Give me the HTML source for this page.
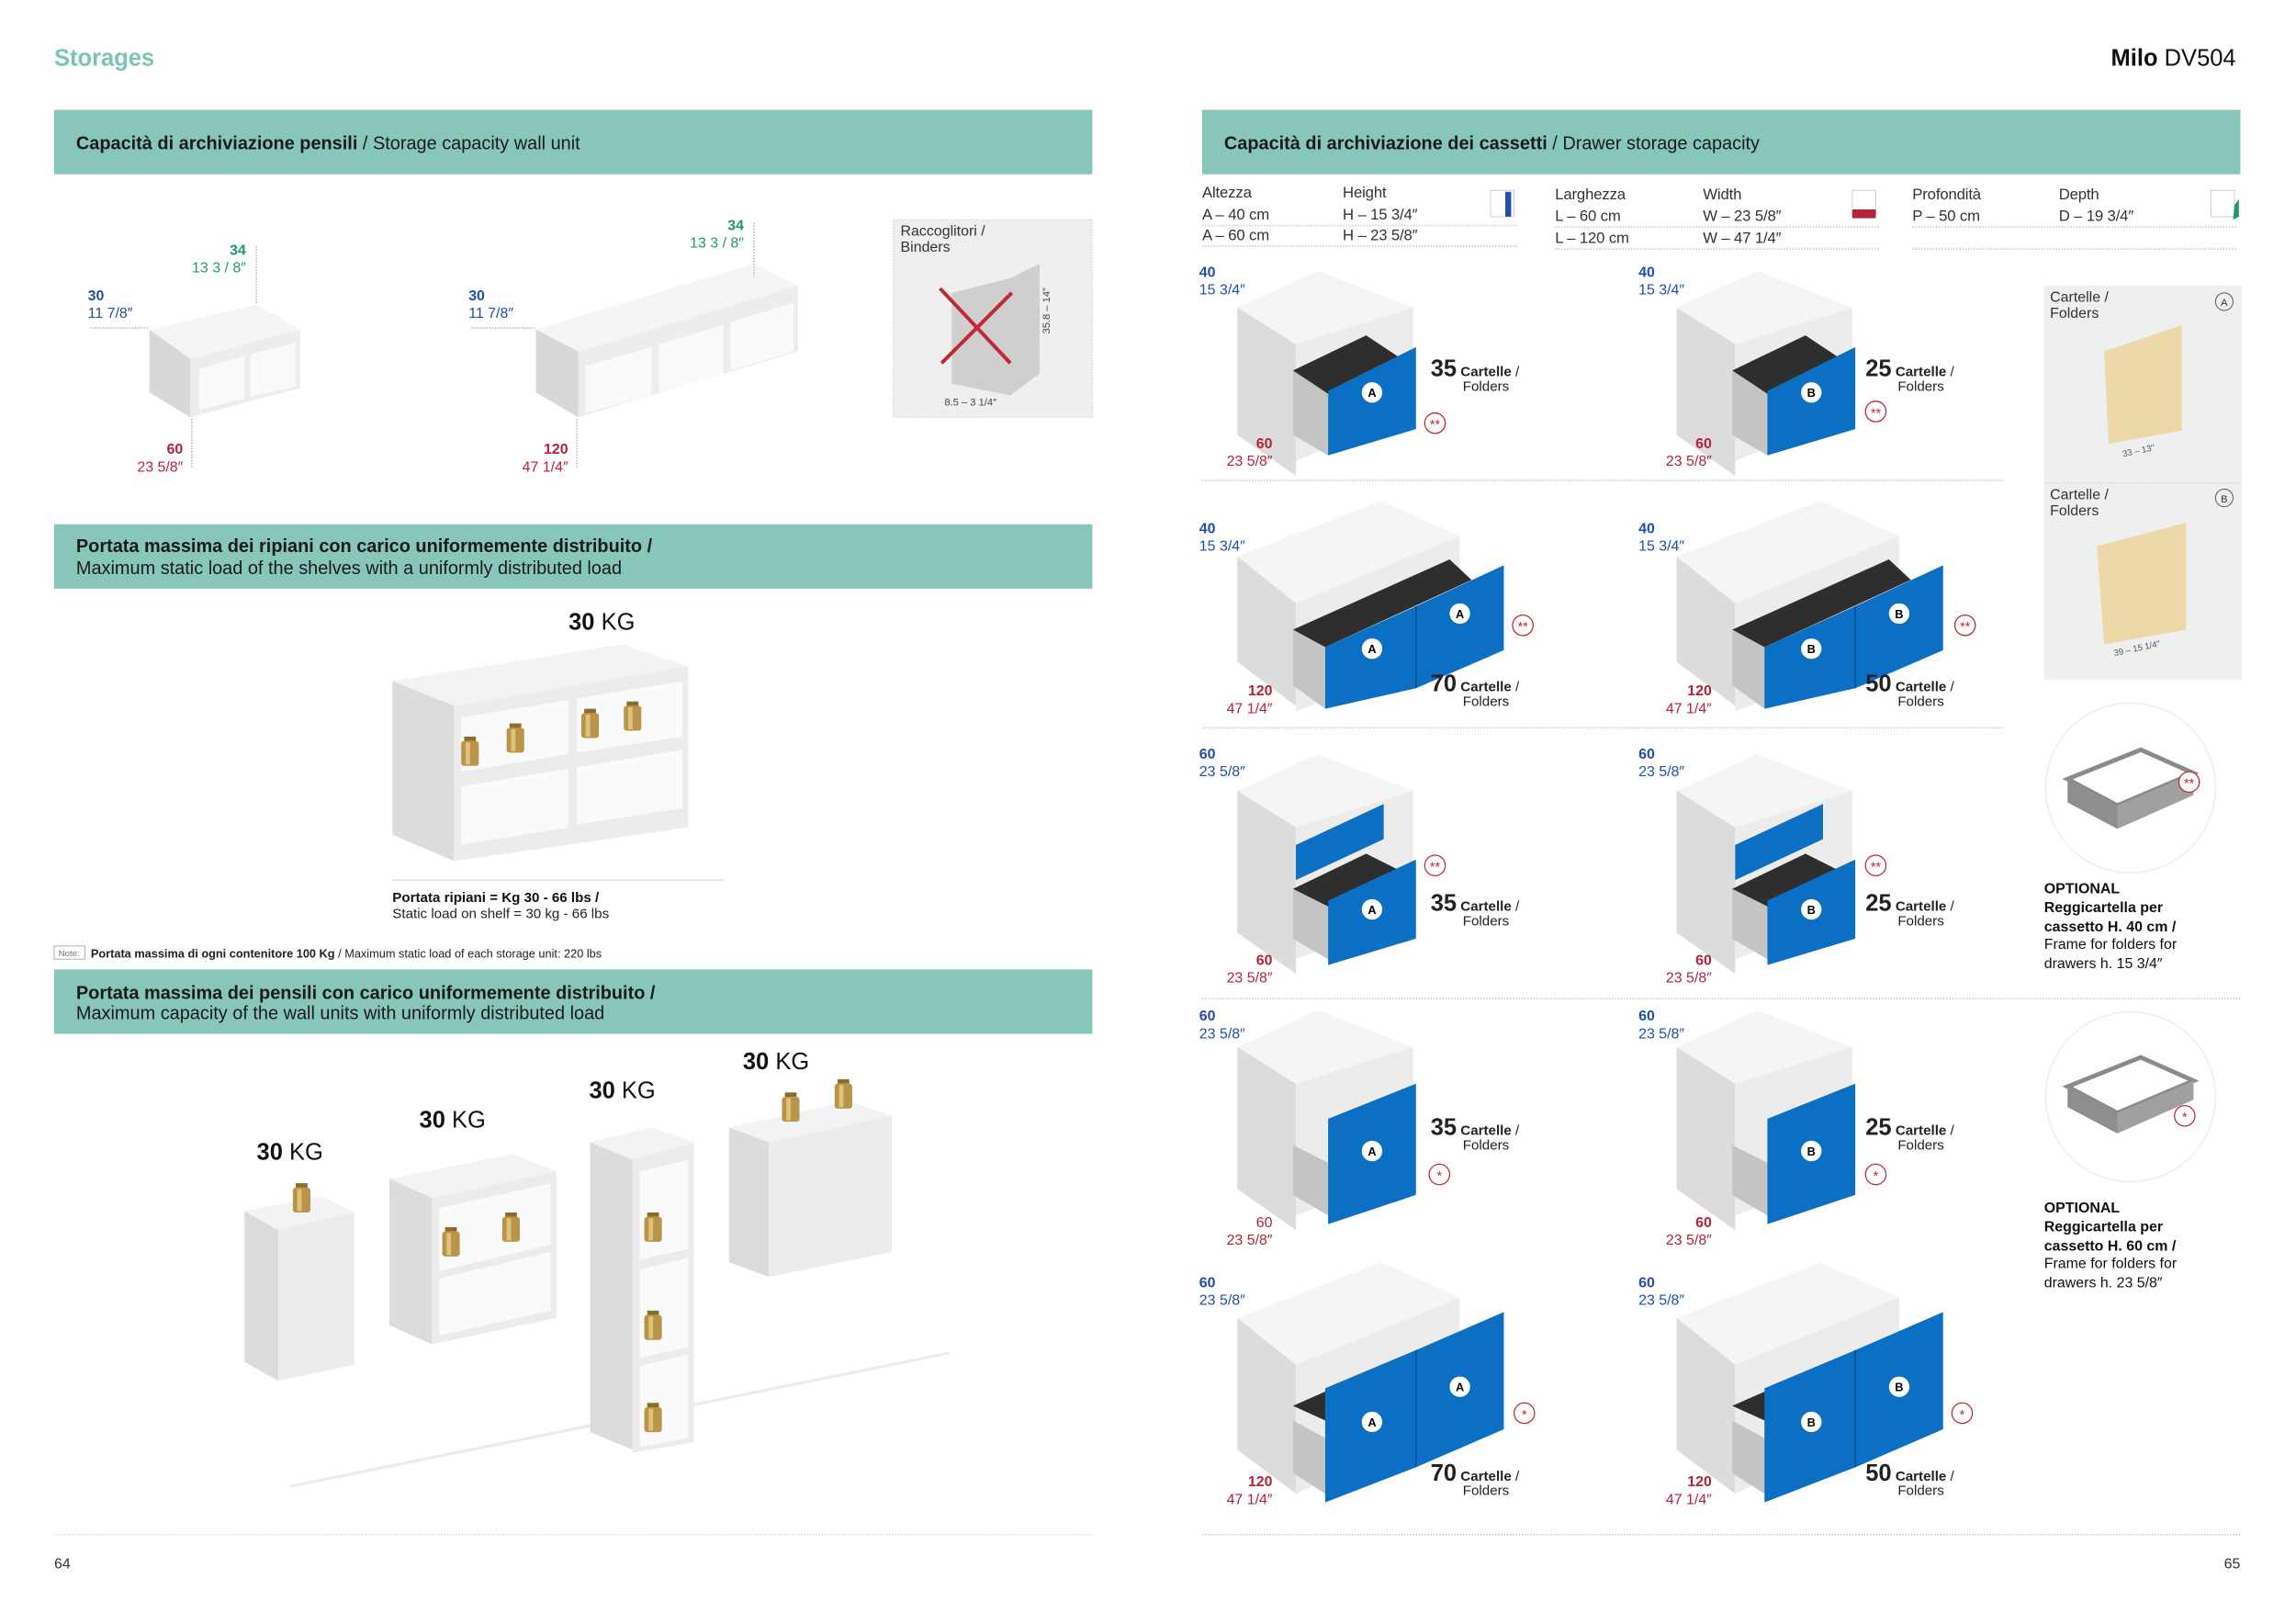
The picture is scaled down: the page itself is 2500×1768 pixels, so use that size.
<!DOCTYPE html>
<html><head><meta charset="utf-8"><style>
html,body{margin:0;padding:0;background:#fff;width:2500px;height:1768px;overflow:hidden}
svg{display:block}
text{font-family:"Liberation Sans",sans-serif}
.h{font-size:12.5px;fill:#1a1a1a}
.b{font-weight:bold}
.s{font-size:10px;fill:#333}
.blue{fill:#1f4fa8;font-size:10px}
.red{fill:#b5223a;font-size:10px}
.grn{fill:#1f9a6a;font-size:10px}
.t{font-size:10.5px;fill:#333;letter-spacing:-0.1px}
</style></head><body>
<svg width="2500" height="1768" viewBox="0 0 1568 1109" preserveAspectRatio="none" xmlns="http://www.w3.org/2000/svg">
<defs>
 <g id="w">
  <rect x="-4" y="0" width="8" height="3" fill="#8a6d2a"/>
  <rect x="-6" y="3" width="12" height="17" rx="2" fill="#b8954a"/>
  <rect x="-3" y="4" width="3" height="15" fill="#e0c27a"/>
 </g>
 <g id="d60">
  <polygon points="0,25 55,0 120,25 40,50" fill="#f5f5f5"/>
  <polygon points="0,25 40,50 40,140 0,112" fill="#dcdcdc"/>
  <polygon points="40,50 120,25 120,95 40,130" fill="#ececec"/>
  <polygon points="38,68 88,44 112,60 62,84" fill="#2e2e2e"/>
  <polygon points="38,68 62,84 62,126 38,112" fill="#c4c4c4"/>
  <polygon points="62,82 122,52 122,108 62,126" fill="#0b6fc3"/>
 </g>
 <g id="d120">
  <polygon points="0,40 98,2 152,26 40,72" fill="#f5f5f5"/>
  <polygon points="0,40 40,72 40,142 0,112" fill="#dcdcdc"/>
  <polygon points="40,72 152,26 152,100 40,146" fill="#ececec"/>
  <polygon points="38,90 145,42 160,56 60,102" fill="#2e2e2e"/>
  <polygon points="38,90 60,102 60,144 38,128" fill="#c4c4c4"/>
  <polygon points="60,102 122,74 122,130 60,144" fill="#0b6fc3"/>
  <polygon points="122,74 182,46 182,104 122,130" fill="#0b6fc3"/>
  <line x1="122" y1="74" x2="122" y2="130" stroke="#0a4f90" stroke-width="1"/>
 </g>
 <g id="d60t">
  <polygon points="0,25 55,0 120,25 40,50" fill="#f5f5f5"/>
  <polygon points="0,25 40,50 40,150 0,122" fill="#dcdcdc"/>
  <polygon points="40,50 120,25 120,110 40,140" fill="#ececec"/>
  <polygon points="40,62 100,34 100,58 40,86" fill="#0b6fc3"/>
  <polygon points="38,92 88,68 112,80 62,104" fill="#2e2e2e"/>
  <polygon points="38,92 62,104 62,140 38,126" fill="#c4c4c4"/>
  <polygon points="62,100 122,72 122,126 62,144" fill="#0b6fc3"/>
 </g>
 <g id="d60b">
  <polygon points="0,25 55,0 120,25 40,50" fill="#f5f5f5"/>
  <polygon points="0,25 40,50 40,150 0,122" fill="#dcdcdc"/>
  <polygon points="40,50 120,25 120,110 40,140" fill="#ececec"/>
  <polygon points="38,92 62,104 62,140 38,126" fill="#c4c4c4"/>
  <polygon points="62,74 122,50 122,126 62,146" fill="#0b6fc3"/>
 </g>
 <g id="d120b">
  <polygon points="0,40 98,2 152,26 40,72" fill="#f5f5f5"/>
  <polygon points="0,40 40,72 40,160 0,130" fill="#dcdcdc"/>
  <polygon points="40,72 152,26 152,110 40,160" fill="#ececec"/>
  <polygon points="38,110 60,122 60,160 38,146" fill="#c4c4c4"/>
  <polygon points="38,100 120,64 130,72 60,110" fill="#2e2e2e"/>
  <polygon points="60,88 122,62 122,142 60,166" fill="#0b6fc3"/>
  <polygon points="122,62 182,36 182,116 122,142" fill="#0b6fc3"/>
  <line x1="122" y1="62" x2="122" y2="142" stroke="#0a4f90" stroke-width="1"/>
 </g>
</defs>

<text x="37" y="45" font-size="16" font-weight="bold" fill="#7cc4b4">Storages</text>
<text x="1527" y="45" font-size="16" text-anchor="end" fill="#111"><tspan font-weight="bold">Milo</tspan> DV504</text>

<rect x="37" y="75" width="709" height="44" fill="#88c6ba"/>
<text x="52" y="102" class="h"><tspan class="b">Capacità di archiviazione pensili</tspan> / Storage capacity wall unit</text>
<rect x="821" y="75" width="709" height="44" fill="#88c6ba"/>
<text x="836" y="102" class="h"><tspan class="b">Capacità di archiviazione dei cassetti</tspan> / Drawer storage capacity</text>
<rect x="37" y="358" width="709" height="44" fill="#88c6ba"/>
<text x="52" y="377" class="h b">Portata massima dei ripiani con carico uniformemente distribuito /</text>
<text x="52" y="392" class="h">Maximum static load of the shelves with a uniformly distributed load</text>
<rect x="37" y="662" width="709" height="44" fill="#88c6ba"/>
<text x="52" y="682" class="h b">Portata massima dei pensili con carico uniformemente distribuito /</text>
<text x="52" y="696" class="h">Maximum capacity of the wall units with uniformly distributed load</text>

<g>
 <polygon points="102,225 175,208 205,225 130,245" fill="#f5f5f5"/>
 <polygon points="102,225 130,245 130,285 102,268" fill="#d8d8d8"/>
 <polygon points="130,245 205,225 205,265 130,285" fill="#ededed"/>
 <polygon points="136,252 167,243 167,272 136,280" fill="#fafafa"/>
 <polygon points="171,242 202,234 202,264 171,271" fill="#fafafa"/>
 <text x="60" y="205" class="blue b">30</text><text x="60" y="217" class="blue">11 7/8″</text>
 <text x="168" y="174" class="grn b" text-anchor="end">34</text><text x="168" y="186" class="grn" text-anchor="end">13 3 / 8″</text>
 <text x="125" y="310" class="red b" text-anchor="end">60</text><text x="125" y="322" class="red" text-anchor="end">23 5/8″</text>
 <line x1="62" y1="224" x2="102" y2="224" stroke="#bbb" stroke-dasharray="1 1"/>
 <line x1="175" y1="168" x2="175" y2="208" stroke="#bbb" stroke-dasharray="1 1"/>
 <line x1="131" y1="286" x2="131" y2="320" stroke="#bbb" stroke-dasharray="1 1"/>
</g>
<g>
 <polygon points="366,225 515,180 545,195 395,240" fill="#f5f5f5"/>
 <polygon points="366,225 395,240 395,285 366,268" fill="#d8d8d8"/>
 <polygon points="395,240 545,195 545,240 395,285" fill="#ededed"/>
 <polygon points="400,250 445,237 445,270 400,282" fill="#fafafa"/>
 <polygon points="450,235 494,222 494,256 450,268" fill="#fafafa"/>
 <polygon points="499,220 542,207 542,240 499,253" fill="#fafafa"/>
 <text x="320" y="205" class="blue b">30</text><text x="320" y="217" class="blue">11 7/8″</text>
 <text x="508" y="157" class="grn b" text-anchor="end">34</text><text x="508" y="169" class="grn" text-anchor="end">13 3 / 8″</text>
 <text x="388" y="310" class="red b" text-anchor="end">120</text><text x="388" y="322" class="red" text-anchor="end">47 1/4″</text>
 <line x1="322" y1="224" x2="366" y2="224" stroke="#bbb" stroke-dasharray="1 1"/>
 <line x1="515" y1="152" x2="515" y2="190" stroke="#bbb" stroke-dasharray="1 1"/>
 <line x1="394" y1="286" x2="394" y2="320" stroke="#bbb" stroke-dasharray="1 1"/>
</g>
<rect x="610" y="150" width="136" height="135" fill="#efefef" stroke="#ddd" stroke-dasharray="1 1"/>
<text x="615" y="161" class="s">Raccoglitori /</text><text x="615" y="172" class="s">Binders</text>
<polygon points="650,200 690,190 710,180 710,255 690,270 650,262" fill="#cfcfcf"/>
<line x1="642" y1="197" x2="690" y2="248" stroke="#c0283a" stroke-width="2.5"/>
<line x1="691" y1="200" x2="643" y2="248" stroke="#c0283a" stroke-width="2.5"/>
<text x="645" y="277" font-size="7" fill="#444">8.5 – 3 1/4″</text>
<text x="717" y="228" font-size="7" fill="#444" transform="rotate(-90 717 228)">35.8 – 14″</text>

<text x="411" y="430" font-size="16" text-anchor="middle" fill="#111"><tspan font-weight="bold">30</tspan> KG</text>
<polygon points="268,465 425,440 470,455 310,482" fill="#f3f3f3"/>
<polygon points="268,465 310,482 310,588 268,570" fill="#dcdcdc"/>
<polygon points="310,482 470,455 470,565 310,588" fill="#ececec"/>
<polygon points="315,490 388,478 388,515 315,527" fill="#fafafa"/>
<polygon points="394,477 466,465 466,503 394,514" fill="#fafafa"/>
<polygon points="315,537 388,525 388,565 315,577" fill="#fafafa"/>
<polygon points="394,524 466,512 466,552 394,563" fill="#fafafa"/>
<use href="#w" x="321" y="503"/><use href="#w" x="352" y="494"/><use href="#w" x="403" y="484"/><use href="#w" x="432" y="479"/>
<line x1="268" y1="601" x2="494" y2="601" stroke="#ddd"/>
<text x="268" y="616" font-size="9.5" font-weight="bold" fill="#111">Portata ripiani = Kg 30 - 66 lbs /</text>
<text x="268" y="627" font-size="9.5" fill="#222">Static load on shelf = 30 kg - 66 lbs</text>
<rect x="37" y="646" width="21" height="9" fill="none" stroke="#aaa" stroke-width="0.6"/>
<text x="40" y="653" font-size="6" fill="#777">Note:</text>
<text x="62" y="654" font-size="8" fill="#222"><tspan font-weight="bold">Portata massima di ogni contenitore 100 Kg</tspan> / Maximum static load of each storage unit: 220 lbs</text>

<line x1="198" y1="1015" x2="648" y2="924" stroke="#ececec" stroke-width="2"/>
<text x="198" y="792" font-size="16" text-anchor="middle" fill="#111"><tspan font-weight="bold">30</tspan> KG</text>
<text x="309" y="770" font-size="16" text-anchor="middle" fill="#111"><tspan font-weight="bold">30</tspan> KG</text>
<text x="425" y="750" font-size="16" text-anchor="middle" fill="#111"><tspan font-weight="bold">30</tspan> KG</text>
<text x="530" y="730" font-size="16" text-anchor="middle" fill="#111"><tspan font-weight="bold">30</tspan> KG</text>
<polygon points="167,827 220,817 242,828 190,840" fill="#f3f3f3"/>
<polygon points="167,827 190,840 190,943 167,930" fill="#dcdcdc"/>
<polygon points="190,840 242,828 242,932 190,943" fill="#ececec"/>
<use href="#w" x="206" y="808"/>
<polygon points="266,805 350,788 380,800 295,818" fill="#f3f3f3"/>
<polygon points="266,805 295,818 295,918 266,905" fill="#dcdcdc"/>
<polygon points="295,818 380,800 380,900 295,918" fill="#ececec"/>
<polygon points="300,825 376,808 376,850 300,868" fill="#fafafa"/>
<polygon points="300,873 376,855 376,895 300,912" fill="#fafafa"/>
<use href="#w" x="308" y="838"/><use href="#w" x="349" y="828"/>
<polygon points="403,780 445,770 474,780 432,792" fill="#f3f3f3"/>
<polygon points="403,780 432,792 432,990 403,978" fill="#dcdcdc"/>
<polygon points="432,792 474,780 474,985 432,992" fill="#ececec"/>
<polygon points="437,800 470,792 470,853 437,860" fill="#fafafa"/>
<polygon points="437,867 470,859 470,920 437,927" fill="#fafafa"/>
<polygon points="437,933 470,925 470,982 437,988" fill="#fafafa"/>
<use href="#w" x="446" y="828"/><use href="#w" x="446" y="895"/><use href="#w" x="446" y="958"/>
<polygon points="498,770 580,752 609,762 525,780" fill="#f3f3f3"/>
<polygon points="498,770 525,780 525,872 498,862" fill="#dcdcdc"/>
<polygon points="525,780 609,762 609,855 525,872" fill="#ececec"/>
<use href="#w" x="540" y="746"/><use href="#w" x="576" y="737"/>
<line x1="37" y1="1048" x2="746" y2="1048" stroke="#ddd" stroke-dasharray="1 1"/>
<text x="37" y="1071" font-size="10" fill="#333">64</text>

<g>
 <text x="821" y="135" class="t">Altezza</text><text x="821" y="150" class="t">A – 40 cm</text><text x="821" y="164" class="t">A – 60 cm</text>
 <text x="917" y="135" class="t">Height</text><text x="917" y="150" class="t">H – 15 3/4″</text><text x="917" y="164" class="t">H – 23 5/8″</text>
 <text x="1062" y="136" class="t">Larghezza</text><text x="1062" y="151" class="t">L – 60 cm</text><text x="1062" y="166" class="t">L – 120 cm</text>
 <text x="1163" y="136" class="t">Width</text><text x="1163" y="151" class="t">W – 23 5/8″</text><text x="1163" y="166" class="t">W – 47 1/4″</text>
 <text x="1306" y="136" class="t">Profondità</text><text x="1306" y="151" class="t">P – 50 cm</text>
 <text x="1406" y="136" class="t">Depth</text><text x="1406" y="151" class="t">D – 19 3/4″</text>
</g>
<rect x="1018" y="130" width="16" height="18" fill="none" stroke="#ccc" stroke-width="0.6"/><rect x="1028" y="131" width="4" height="17" fill="#1f4fa8"/>
<rect x="1265" y="130" width="16" height="18" fill="none" stroke="#ccc" stroke-width="0.6"/><rect x="1265" y="143" width="16" height="6" fill="#b5223a"/>
<rect x="1510" y="130" width="16" height="18" fill="none" stroke="#ccc" stroke-width="0.6"/><polygon points="1526,140 1529,136 1529,148 1525,150" fill="#1f9a6a"/>
<g stroke="#ccc" stroke-dasharray="1 1">
 <line x1="821" y1="154" x2="1036" y2="154"/><line x1="821" y1="168" x2="1036" y2="168"/>
 <line x1="1062" y1="155" x2="1283" y2="155"/><line x1="1062" y1="170" x2="1283" y2="170"/>
 <line x1="1306" y1="155" x2="1528" y2="155"/><line x1="1306" y1="170" x2="1528" y2="170"/>
 <line x1="821" y1="328" x2="1368" y2="328"/><line x1="821" y1="497" x2="1368" y2="497"/>
 <line x1="821" y1="682" x2="1531" y2="682"/>
 <line x1="821" y1="1048" x2="1530" y2="1048"/>
</g>

<use href="#d60" x="845" y="185"/>
<circle cx="937" cy="268" r="7" fill="#fff"/><text x="937" y="271" font-size="8" font-weight="bold" text-anchor="middle">A</text>
<use href="#d60" x="1145" y="185"/>
<circle cx="1237" cy="268" r="7" fill="#fff"/><text x="1237" y="271" font-size="8" font-weight="bold" text-anchor="middle">B</text>
<use href="#d120" x="845" y="340"/>
<circle cx="937" cy="443" r="7" fill="#fff"/><text x="937" y="446" font-size="8" font-weight="bold" text-anchor="middle">A</text>
<circle cx="997" cy="419" r="7" fill="#fff"/><text x="997" y="422" font-size="8" font-weight="bold" text-anchor="middle">A</text>
<use href="#d120" x="1145" y="340"/>
<circle cx="1237" cy="443" r="7" fill="#fff"/><text x="1237" y="446" font-size="8" font-weight="bold" text-anchor="middle">B</text>
<circle cx="1297" cy="419" r="7" fill="#fff"/><text x="1297" y="422" font-size="8" font-weight="bold" text-anchor="middle">B</text>
<use href="#d60t" x="845" y="515"/>
<circle cx="937" cy="621" r="7" fill="#fff"/><text x="937" y="624" font-size="8" font-weight="bold" text-anchor="middle">A</text>
<use href="#d60t" x="1145" y="515"/>
<circle cx="1237" cy="621" r="7" fill="#fff"/><text x="1237" y="624" font-size="8" font-weight="bold" text-anchor="middle">B</text>
<use href="#d60b" x="845" y="690"/>
<circle cx="937" cy="786" r="7" fill="#fff"/><text x="937" y="789" font-size="8" font-weight="bold" text-anchor="middle">A</text>
<use href="#d60b" x="1145" y="690"/>
<circle cx="1237" cy="786" r="7" fill="#fff"/><text x="1237" y="789" font-size="8" font-weight="bold" text-anchor="middle">B</text>
<use href="#d120b" x="845" y="860"/>
<circle cx="937" cy="971" r="7" fill="#fff"/><text x="937" y="974" font-size="8" font-weight="bold" text-anchor="middle">A</text>
<circle cx="997" cy="947" r="7" fill="#fff"/><text x="997" y="950" font-size="8" font-weight="bold" text-anchor="middle">A</text>
<use href="#d120b" x="1145" y="860"/>
<circle cx="1237" cy="971" r="7" fill="#fff"/><text x="1237" y="974" font-size="8" font-weight="bold" text-anchor="middle">B</text>
<circle cx="1297" cy="947" r="7" fill="#fff"/><text x="1297" y="950" font-size="8" font-weight="bold" text-anchor="middle">B</text>

<g>
 <text x="819" y="189" class="blue b">40</text><text x="819" y="201" class="blue">15 3/4″</text>
 <text x="1119" y="189" class="blue b">40</text><text x="1119" y="201" class="blue">15 3/4″</text>
 <text x="869" y="306" class="red b" text-anchor="end">60</text><text x="869" y="318" class="red" text-anchor="end">23 5/8″</text>
 <text x="1169" y="306" class="red b" text-anchor="end">60</text><text x="1169" y="318" class="red" text-anchor="end">23 5/8″</text>
 <text x="819" y="364" class="blue b">40</text><text x="819" y="376" class="blue">15 3/4″</text>
 <text x="1119" y="364" class="blue b">40</text><text x="1119" y="376" class="blue">15 3/4″</text>
 <text x="869" y="475" class="red b" text-anchor="end">120</text><text x="869" y="487" class="red" text-anchor="end">47 1/4″</text>
 <text x="1169" y="475" class="red b" text-anchor="end">120</text><text x="1169" y="487" class="red" text-anchor="end">47 1/4″</text>
 <text x="819" y="518" class="blue b">60</text><text x="819" y="530" class="blue">23 5/8″</text>
 <text x="1119" y="518" class="blue b">60</text><text x="1119" y="530" class="blue">23 5/8″</text>
 <text x="869" y="659" class="red b" text-anchor="end">60</text><text x="869" y="671" class="red" text-anchor="end">23 5/8″</text>
 <text x="1169" y="659" class="red b" text-anchor="end">60</text><text x="1169" y="671" class="red" text-anchor="end">23 5/8″</text>
 <text x="819" y="697" class="blue b">60</text><text x="819" y="709" class="blue">23 5/8″</text>
 <text x="1119" y="697" class="blue b">60</text><text x="1119" y="709" class="blue">23 5/8″</text>
 <text x="869" y="838" class="red" text-anchor="end">60</text><text x="869" y="850" class="red" text-anchor="end">23 5/8″</text>
 <text x="1169" y="838" class="red b" text-anchor="end">60</text><text x="1169" y="850" class="red" text-anchor="end">23 5/8″</text>
 <text x="819" y="879" class="blue b">60</text><text x="819" y="891" class="blue">23 5/8″</text>
 <text x="1119" y="879" class="blue b">60</text><text x="1119" y="891" class="blue">23 5/8″</text>
 <text x="869" y="1015" class="red b" text-anchor="end">120</text><text x="869" y="1027" class="red" text-anchor="end">47 1/4″</text>
 <text x="1169" y="1015" class="red b" text-anchor="end">120</text><text x="1169" y="1027" class="red" text-anchor="end">47 1/4″</text>
</g>
<g font-size="9.5" fill="#222">
 <text x="977" y="257"><tspan font-size="16" font-weight="bold">35</tspan> <tspan font-weight="bold">Cartelle</tspan> /</text><text x="999" y="267">Folders</text>
 <text x="1274" y="257"><tspan font-size="16" font-weight="bold">25</tspan> <tspan font-weight="bold">Cartelle</tspan> /</text><text x="1296" y="267">Folders</text>
 <text x="977" y="472"><tspan font-size="16" font-weight="bold">70</tspan> <tspan font-weight="bold">Cartelle</tspan> /</text><text x="999" y="482">Folders</text>
 <text x="1274" y="472"><tspan font-size="16" font-weight="bold">50</tspan> <tspan font-weight="bold">Cartelle</tspan> /</text><text x="1296" y="482">Folders</text>
 <text x="977" y="622"><tspan font-size="16" font-weight="bold">35</tspan> <tspan font-weight="bold">Cartelle</tspan> /</text><text x="999" y="632">Folders</text>
 <text x="1274" y="622"><tspan font-size="16" font-weight="bold">25</tspan> <tspan font-weight="bold">Cartelle</tspan> /</text><text x="1296" y="632">Folders</text>
 <text x="977" y="775"><tspan font-size="16" font-weight="bold">35</tspan> <tspan font-weight="bold">Cartelle</tspan> /</text><text x="999" y="785">Folders</text>
 <text x="1274" y="775"><tspan font-size="16" font-weight="bold">25</tspan> <tspan font-weight="bold">Cartelle</tspan> /</text><text x="1296" y="785">Folders</text>
 <text x="977" y="1011"><tspan font-size="16" font-weight="bold">70</tspan> <tspan font-weight="bold">Cartelle</tspan> /</text><text x="999" y="1021">Folders</text>
 <text x="1274" y="1011"><tspan font-size="16" font-weight="bold">50</tspan> <tspan font-weight="bold">Cartelle</tspan> /</text><text x="1296" y="1021">Folders</text>
</g>
<g fill="none" stroke="#c0283a" stroke-width="0.8">
 <circle cx="980" cy="289" r="7"/><circle cx="1281" cy="281" r="7"/>
 <circle cx="1040" cy="427" r="7"/><circle cx="1342" cy="427" r="7"/>
 <circle cx="980" cy="591" r="7"/><circle cx="1281" cy="591" r="7"/>
 <circle cx="983" cy="802" r="7"/><circle cx="1281" cy="802" r="7"/>
 <circle cx="1041" cy="965" r="7"/><circle cx="1340" cy="965" r="7"/>
</g>
<g fill="#c0283a" font-size="9" text-anchor="middle">
 <text x="980" y="293">**</text><text x="1281" y="285">**</text><text x="1040" y="431">**</text><text x="1342" y="431">**</text>
 <text x="980" y="595">**</text><text x="1281" y="595">**</text><text x="983" y="806">*</text><text x="1281" y="806">*</text>
 <text x="1041" y="969">*</text><text x="1340" y="969">*</text>
</g>

<rect x="1396" y="195" width="135" height="269" fill="#efefef"/>
<line x1="1396" y1="330" x2="1531" y2="330" stroke="#ddd" stroke-dasharray="1 1"/>
<text x="1400" y="206" class="s">Cartelle /</text><text x="1400" y="217" class="s">Folders</text>
<circle cx="1519" cy="206" r="6" fill="none" stroke="#555" stroke-width="0.6"/><text x="1519" y="209" font-size="7" text-anchor="middle" fill="#333">A</text>
<polygon points="1437,240 1490,222 1490,294 1440,303" fill="#ecd8a8"/>
<text x="1450" y="312" font-size="6" fill="#555" transform="rotate(-12 1450 312)">33 – 13″</text>
<text x="1400" y="341" class="s">Cartelle /</text><text x="1400" y="352" class="s">Folders</text>
<circle cx="1519" cy="340" r="6" fill="none" stroke="#555" stroke-width="0.6"/><text x="1519" y="343" font-size="7" text-anchor="middle" fill="#333">B</text>
<polygon points="1432,373 1493,357 1493,430 1437,440" fill="#ecd8a8"/>
<text x="1444" y="448" font-size="6" fill="#555" transform="rotate(-12 1444 448)">39 – 15 1/4″</text>

<circle cx="1455" cy="538" r="58" fill="none" stroke="#eee"/>
<polygon points="1412,532 1462,512 1498,528 1446,550" fill="none" stroke="#8a8a8a" stroke-width="3"/>
<polygon points="1412,532 1446,550 1446,566 1412,548" fill="#8e8e8e"/>
<polygon points="1446,550 1498,528 1498,543 1446,566" fill="#a0a0a0"/>
<circle cx="1495" cy="534" r="7" fill="#fff" stroke="#c0283a" stroke-width="0.8"/><text x="1495" y="538" font-size="9" fill="#c0283a" text-anchor="middle">**</text>
<circle cx="1455" cy="749" r="58" fill="none" stroke="#eee"/>
<polygon points="1412,742 1462,722 1498,738 1446,760" fill="none" stroke="#8a8a8a" stroke-width="3"/>
<polygon points="1412,742 1446,760 1446,774 1412,756" fill="#8e8e8e"/>
<polygon points="1446,760 1498,738 1498,751 1446,774" fill="#a0a0a0"/>
<circle cx="1492" cy="762" r="7" fill="#fff" stroke="#c0283a" stroke-width="0.8"/><text x="1492" y="766" font-size="9" fill="#c0283a" text-anchor="middle">*</text>
<g font-size="10" fill="#111">
 <text x="1396" y="610" font-weight="bold">OPTIONAL</text>
 <text x="1396" y="623" font-weight="bold">Reggicartella per</text>
 <text x="1396" y="636" font-weight="bold">cassetto H. 40 cm /</text>
 <text x="1396" y="648">Frame for folders for</text>
 <text x="1396" y="661">drawers h. 15 3/4″</text>
 <text x="1396" y="828" font-weight="bold">OPTIONAL</text>
 <text x="1396" y="841" font-weight="bold">Reggicartella per</text>
 <text x="1396" y="854" font-weight="bold">cassetto H. 60 cm /</text>
 <text x="1396" y="866">Frame for folders for</text>
 <text x="1396" y="879">drawers h. 23 5/8″</text>
</g>
<text x="1530" y="1071" font-size="10" fill="#333" text-anchor="end">65</text>
</svg>
</body></html>
